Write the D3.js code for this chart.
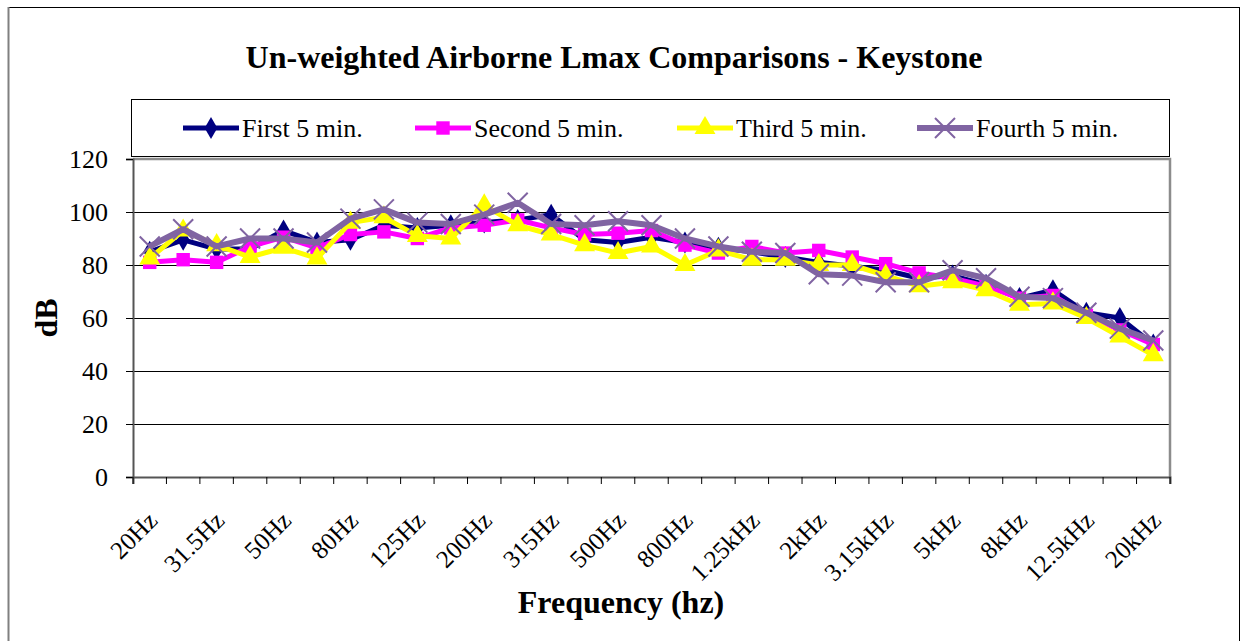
<!DOCTYPE html>
<html>
<head>
<meta charset="utf-8">
<script src="https://cdn.jsdelivr.net/npm/d3@7"></script>
<style>
  body { margin: 0; background: #fff; }
</style>
</head>
<body>
<svg></svg>
<script>
const categories = [
  "20Hz", "25Hz", "31.5Hz", "40Hz", "50Hz", "63Hz", "80Hz", "100Hz", "125Hz", "160Hz",
  "200Hz", "250Hz", "315Hz", "400Hz", "500Hz", "630Hz", "800Hz", "1kHz", "1.25kHz", "1.6kHz",
  "2kHz", "2.5kHz", "3.15kHz", "4kHz", "5kHz", "6.3kHz", "8kHz", "10kHz", "12.5kHz", "16kHz", "20kHz"
];

const first5 = [85, 89.5, 86, 86, 93, 88.5, 89.5, 95, 94, 95, 96, 97, 99, 89.5, 88.5, 90.5,
  88.5, 86.5, 85, 83, 81, 79.5, 78, 75, 76, 72.5, 67.5, 70.5, 62, 60, 50];
const second5 = [81, 82, 81, 87, 90.5, 86.5, 91.5, 92.5, 90, 94, 95, 97, 94, 91.5, 92, 93,
  87.5, 84.5, 87, 84.5, 85.5, 83, 80.5, 77, 75, 72, 67.5, 68.5, 61, 55.5, 50];
const third5 = [82.5, 93, 87.5, 83, 86.5, 82.5, 96, 98, 91, 90, 102.5, 95, 91.5, 87.5, 84.5, 87,
  80, 85.5, 82, 82, 80, 80, 76, 72, 73.5, 70.5, 65, 65.5, 60, 53, 46];
const fourth5 = [87, 93.5, 87, 90, 90, 88.5, 97.5, 101, 96, 95.5, 99, 103.5, 95.5, 95, 96.5, 95,
  90, 87, 85, 84.5, 76.5, 76, 73.5, 73.5, 78, 75, 68, 67.5, 62, 56, 51.5];

const yTicks = [0, 20, 40, 60, 80, 100, 120];

const series = [
  { name: "First 5 min.", values: first5, color: "#000080", marker: "diamond", width: 5 },
  { name: "Second 5 min.", values: second5, color: "#FF00FF", marker: "square", width: 5 },
  { name: "Third 5 min.", values: third5, color: "#FFFF00", marker: "triangle", width: 5 },
  { name: "Fourth 5 min.", values: fourth5, color: "#8064A2", marker: "cross", width: 6 }
];

const width = 1241, height = 641;
const margin = { left: 133, right: 71, top: 159, bottom: 164 };
const serif = "Liberation Serif";

const svg = d3.select("svg").attr("width", width).attr("height", height);

// outer chart frame
svg.append("rect")
  .attr("x", 8.5).attr("y", 7.5)
  .attr("width", 1231).attr("height", 650)
  .attr("fill", "#fff")
  .attr("stroke", "#000").attr("stroke-width", 1);
svg.append("line")
  .attr("x1", 8.5).attr("x2", 8.5).attr("y1", 7).attr("y2", 641)
  .attr("stroke", "#808080").attr("stroke-width", 2);

const x = d3.scaleBand()
  .domain(categories)
  .range([margin.left, width - margin.right]);

const y = d3.scaleLinear()
  .domain([0, 120])
  .range([height - margin.bottom, margin.top]);

// title
svg.append("text")
  .attr("x", 614).attr("y", 68)
  .attr("text-anchor", "middle")
  .attr("font-family", serif)
  .attr("font-size", 32).attr("font-weight", "bold")
  .text("Un-weighted Airborne Lmax Comparisons - Keystone");

// gridlines
svg.append("g")
  .selectAll("line")
  .data(yTicks.filter(d => d > 0 && d < 120))
  .join("line")
  .attr("x1", margin.left).attr("x2", width - margin.right)
  .attr("y1", d => Math.round(y(d)) + 0.5).attr("y2", d => Math.round(y(d)) + 0.5)
  .attr("stroke", "#000").attr("stroke-width", 1);

// plot frame (gray top and right)
svg.append("path")
  .attr("d", `M${margin.left},${y(120)}H${width - margin.right}V${y(0)}`)
  .attr("fill", "none")
  .attr("stroke", "#8c8c8c").attr("stroke-width", 2.5);

// y axis
const yAxis = svg.append("g")
  .attr("transform", `translate(${margin.left},0)`)
  .call(d3.axisLeft(y).tickValues(yTicks).tickSize(7).tickPadding(18));
yAxis.attr("font-family", serif);
yAxis.select(".domain").attr("stroke", "#555").attr("stroke-width", 2);
yAxis.selectAll(".tick line").attr("stroke", "#000");
yAxis.selectAll("text")
  .attr("font-family", serif).attr("font-size", 26).attr("fill", "#000");

// x axis
const xAxis = svg.append("g")
  .attr("transform", `translate(0,${y(0)})`)
  .call(d3.axisBottom(x).tickSize(7).tickFormat(""));
xAxis.select(".domain").attr("stroke", "#555").attr("stroke-width", 2);
xAxis.selectAll(".tick").remove();
xAxis.selectAll("line.sep")
  .data(d3.range(categories.length + 1))
  .join("line")
  .attr("class", "sep")
  .attr("x1", i => margin.left + i * x.bandwidth())
  .attr("x2", i => margin.left + i * x.bandwidth())
  .attr("y1", 0).attr("y2", 7)
  .attr("stroke", "#000");

// every other category label, rotated
svg.append("g")
  .selectAll("text")
  .data(categories.filter((d, i) => i % 2 === 0))
  .join("text")
  .attr("transform", d => `translate(${x(d) + x.bandwidth() / 2 + 3},${y(0) + 39}) rotate(-45)`)
  .attr("text-anchor", "end")
  .attr("dy", "0.35em")
  .attr("font-family", serif)
  .attr("font-size", 25)
  .text(d => d);

// axis titles
svg.append("text")
  .attr("transform", `translate(57,${(y(0) + y(120)) / 2}) rotate(-90)`)
  .attr("text-anchor", "middle")
  .attr("font-family", serif)
  .attr("font-size", 32).attr("font-weight", "bold")
  .text("dB");

svg.append("text")
  .attr("x", 621).attr("y", 613)
  .attr("text-anchor", "middle")
  .attr("font-family", serif)
  .attr("font-size", 32).attr("font-weight", "bold")
  .text("Frequency (hz)");

// markers
const markerPath = {
  diamond: d3.symbol().type(d3.symbolDiamond).size(140),
  square: d3.symbol().type(d3.symbolSquare).size(180),
  triangle: d3.symbol().type(d3.symbolTriangle).size(190),
  cross: null
};

function drawMarker(g, s, cx, cy) {
  if (s.marker === "cross") {
    const r = 10;
    g.append("path")
      .attr("d", `M${cx - r},${cy - r}L${cx + r},${cy + r}M${cx - r},${cy + r}L${cx + r},${cy - r}`)
      .attr("stroke", s.color).attr("stroke-width", 2).attr("fill", "none");
  } else {
    g.append("path")
      .attr("d", markerPath[s.marker]())
      .attr("transform", `translate(${cx},${cy})`)
      .attr("fill", s.color);
  }
}

const line = d3.line()
  .x((d, i) => x(categories[i]) + x.bandwidth() / 2)
  .y(d => y(d));

const plot = svg.append("g");
series.forEach(s => {
  const g = plot.append("g");
  g.append("path")
    .datum(s.values)
    .attr("d", line)
    .attr("fill", "none")
    .attr("stroke", s.color)
    .attr("stroke-width", s.width)
    .attr("stroke-linejoin", "round");
  s.values.forEach((v, i) => {
    drawMarker(g, s, x(categories[i]) + x.bandwidth() / 2, y(v));
  });
});

// legend
const legend = svg.append("g");
legend.append("rect")
  .attr("x", 131.5).attr("y", 99.5)
  .attr("width", 1038).attr("height", 57)
  .attr("fill", "#fff")
  .attr("stroke", "#000");

const legendX = [183, 415, 677, 917];
series.forEach((s, i) => {
  const g = legend.append("g").attr("transform", `translate(${legendX[i]},128)`);
  g.append("line")
    .attr("x1", 0).attr("x2", 56)
    .attr("stroke", s.color).attr("stroke-width", s.width);
  drawMarker(g, s, 28, 0);
  g.append("text")
    .attr("x", 59).attr("y", 0)
    .attr("dy", "0.35em")
    .attr("font-family", serif)
    .attr("font-size", 26)
    .text(s.name);
});
</script>
</body>
</html>
